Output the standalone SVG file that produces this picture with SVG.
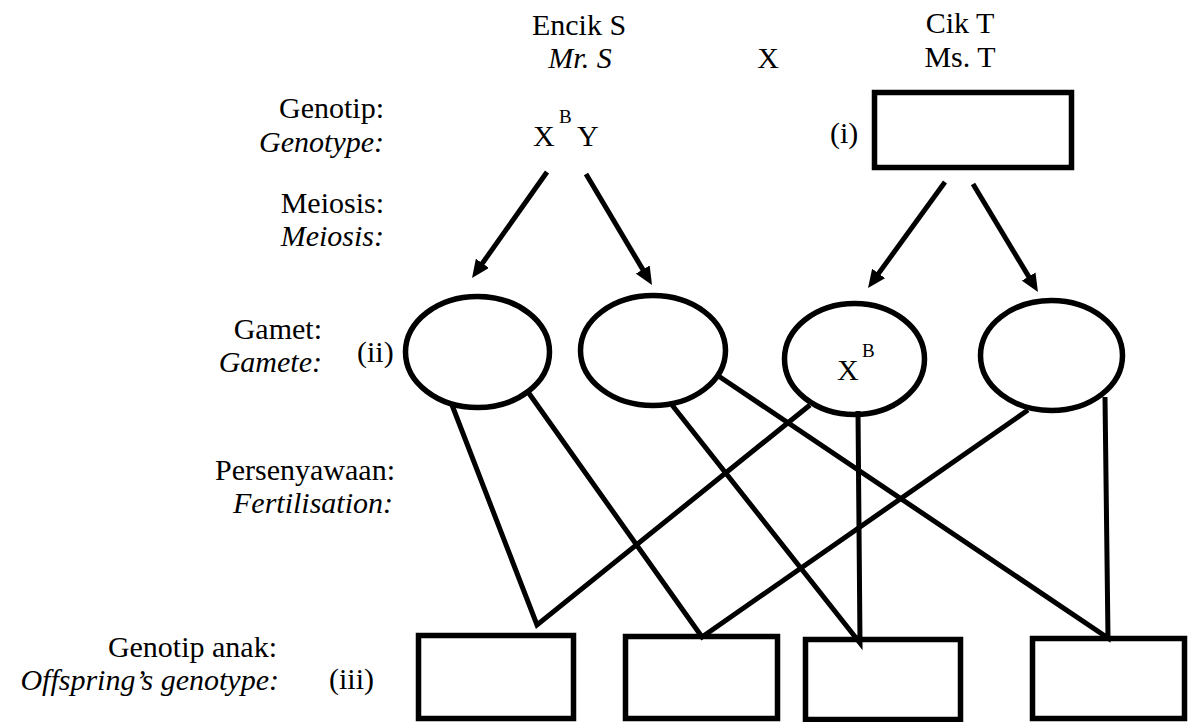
<svg xmlns="http://www.w3.org/2000/svg" width="1193" height="722" viewBox="0 0 1193 722">
  <style>
    text { font-family: "Liberation Serif", "DejaVu Serif", "Times New Roman", serif; font-size: 30px; fill: #000; }
    .it { font-style: italic; }
    .lbl { text-anchor: end; }
    .mid { text-anchor: middle; }
    .sup { font-size: 19px; }
    .shape { fill: #fff; stroke: #000; stroke-width: 5.5; }
    .wire { fill: none; stroke: #000; stroke-width: 5; }
  </style>
  <defs>
    <!-- solid triangular arrowhead for the meiosis arrows -->
    <marker id="arrow" markerUnits="userSpaceOnUse" viewBox="0 0 18 16" markerWidth="18" markerHeight="16" refX="8" refY="8" orient="auto">
      <path d="M0,0 L18,8 L0,16 z" fill="#000"/>
    </marker>
  </defs>

  <rect width="1193" height="722" fill="#fff"/>

  <!-- row labels -->
  <g id="row-labels">
    <text class="lbl" x="384" y="118">Genotip:</text>
    <text class="lbl it" x="384" y="152">Genotype:</text>
    <text class="lbl" x="384" y="213">Meiosis:</text>
    <text class="lbl it" x="384" y="246">Meiosis:</text>
    <text class="lbl" x="322" y="339">Gamet:</text>
    <text class="lbl it" x="322" y="372">Gamete:</text>
    <text class="lbl" x="395" y="480">Persenyawaan:</text>
    <text class="lbl it" x="393" y="513">Fertilisation:</text>
    <text class="lbl" x="277" y="657">Genotip anak:</text>
    <text class="lbl it" x="279" y="690">Offspring’s genotype:</text>
  </g>

  <!-- parents -->
  <g id="father">
    <text class="mid" x="579" y="35">Encik S</text>
    <text class="mid it" x="580" y="68">Mr. S</text>
    <text x="533" y="146">X</text>
    <text class="sup" x="559" y="123">B</text>
    <text x="577" y="146">Y</text>
  </g>
  <text id="cross" class="mid" x="768" y="68">X</text>
  <g id="mother">
    <text class="mid" x="960" y="33">Cik T</text>
    <text class="mid" x="960" y="67">Ms. T</text>
    <text x="830" y="143">(i)</text>
    <rect class="shape" x="874.5" y="92.5" width="197" height="75"/>
  </g>

  <!-- gametes -->
  <text id="label-ii" x="357" y="362">(ii)</text>
  <g id="gamete-1"><ellipse class="shape" cx="477.5" cy="352" rx="72" ry="55.5"/></g>
  <g id="gamete-2"><ellipse class="shape" cx="653" cy="350.5" rx="72.5" ry="55"/></g>
  <g id="gamete-3">
    <ellipse class="shape" cx="854.5" cy="359" rx="70" ry="55.5"/>
    <text x="837" y="380">X</text>
    <text class="sup" x="862" y="357">B</text>
  </g>
  <g id="gamete-4"><ellipse class="shape" cx="1051.5" cy="355.5" rx="71" ry="55"/></g>

  <!-- offspring -->
  <text id="label-iii" x="329" y="689">(iii)</text>
  <g id="offspring-1"><rect class="shape" x="418.5" y="635.5" width="155" height="83"/></g>
  <g id="offspring-2"><rect class="shape" x="625.5" y="636.5" width="152" height="82"/></g>
  <g id="offspring-3"><rect class="shape" x="805.5" y="639.5" width="155" height="80"/></g>
  <g id="offspring-4"><rect class="shape" x="1032.5" y="638.5" width="152" height="80"/></g>

  <!-- connectors -->
  <g id="connectors">
    <!-- meiosis arrows -->
    <line class="wire" x1="547" y1="172" x2="477.8" y2="269.8" marker-end="url(#arrow)"/>
    <line class="wire" x1="586" y1="174" x2="646.9" y2="276.4" marker-end="url(#arrow)"/>
    <line class="wire" x1="945" y1="182" x2="873.9" y2="279.9" marker-end="url(#arrow)"/>
    <line class="wire" x1="973" y1="184" x2="1032.8" y2="283.4" marker-end="url(#arrow)"/>
    <!-- fertilisation lines: each pair meets at the top of an offspring box -->
    <polyline class="wire" points="452,405 537,625 810,405"/>
    <polyline class="wire" points="528,392 702,637 1028,410"/>
    <polyline class="wire" points="672,405 860,643 858,411"/>
    <polyline class="wire" points="717,375 1108,638 1105,397"/>
  </g>
</svg>
